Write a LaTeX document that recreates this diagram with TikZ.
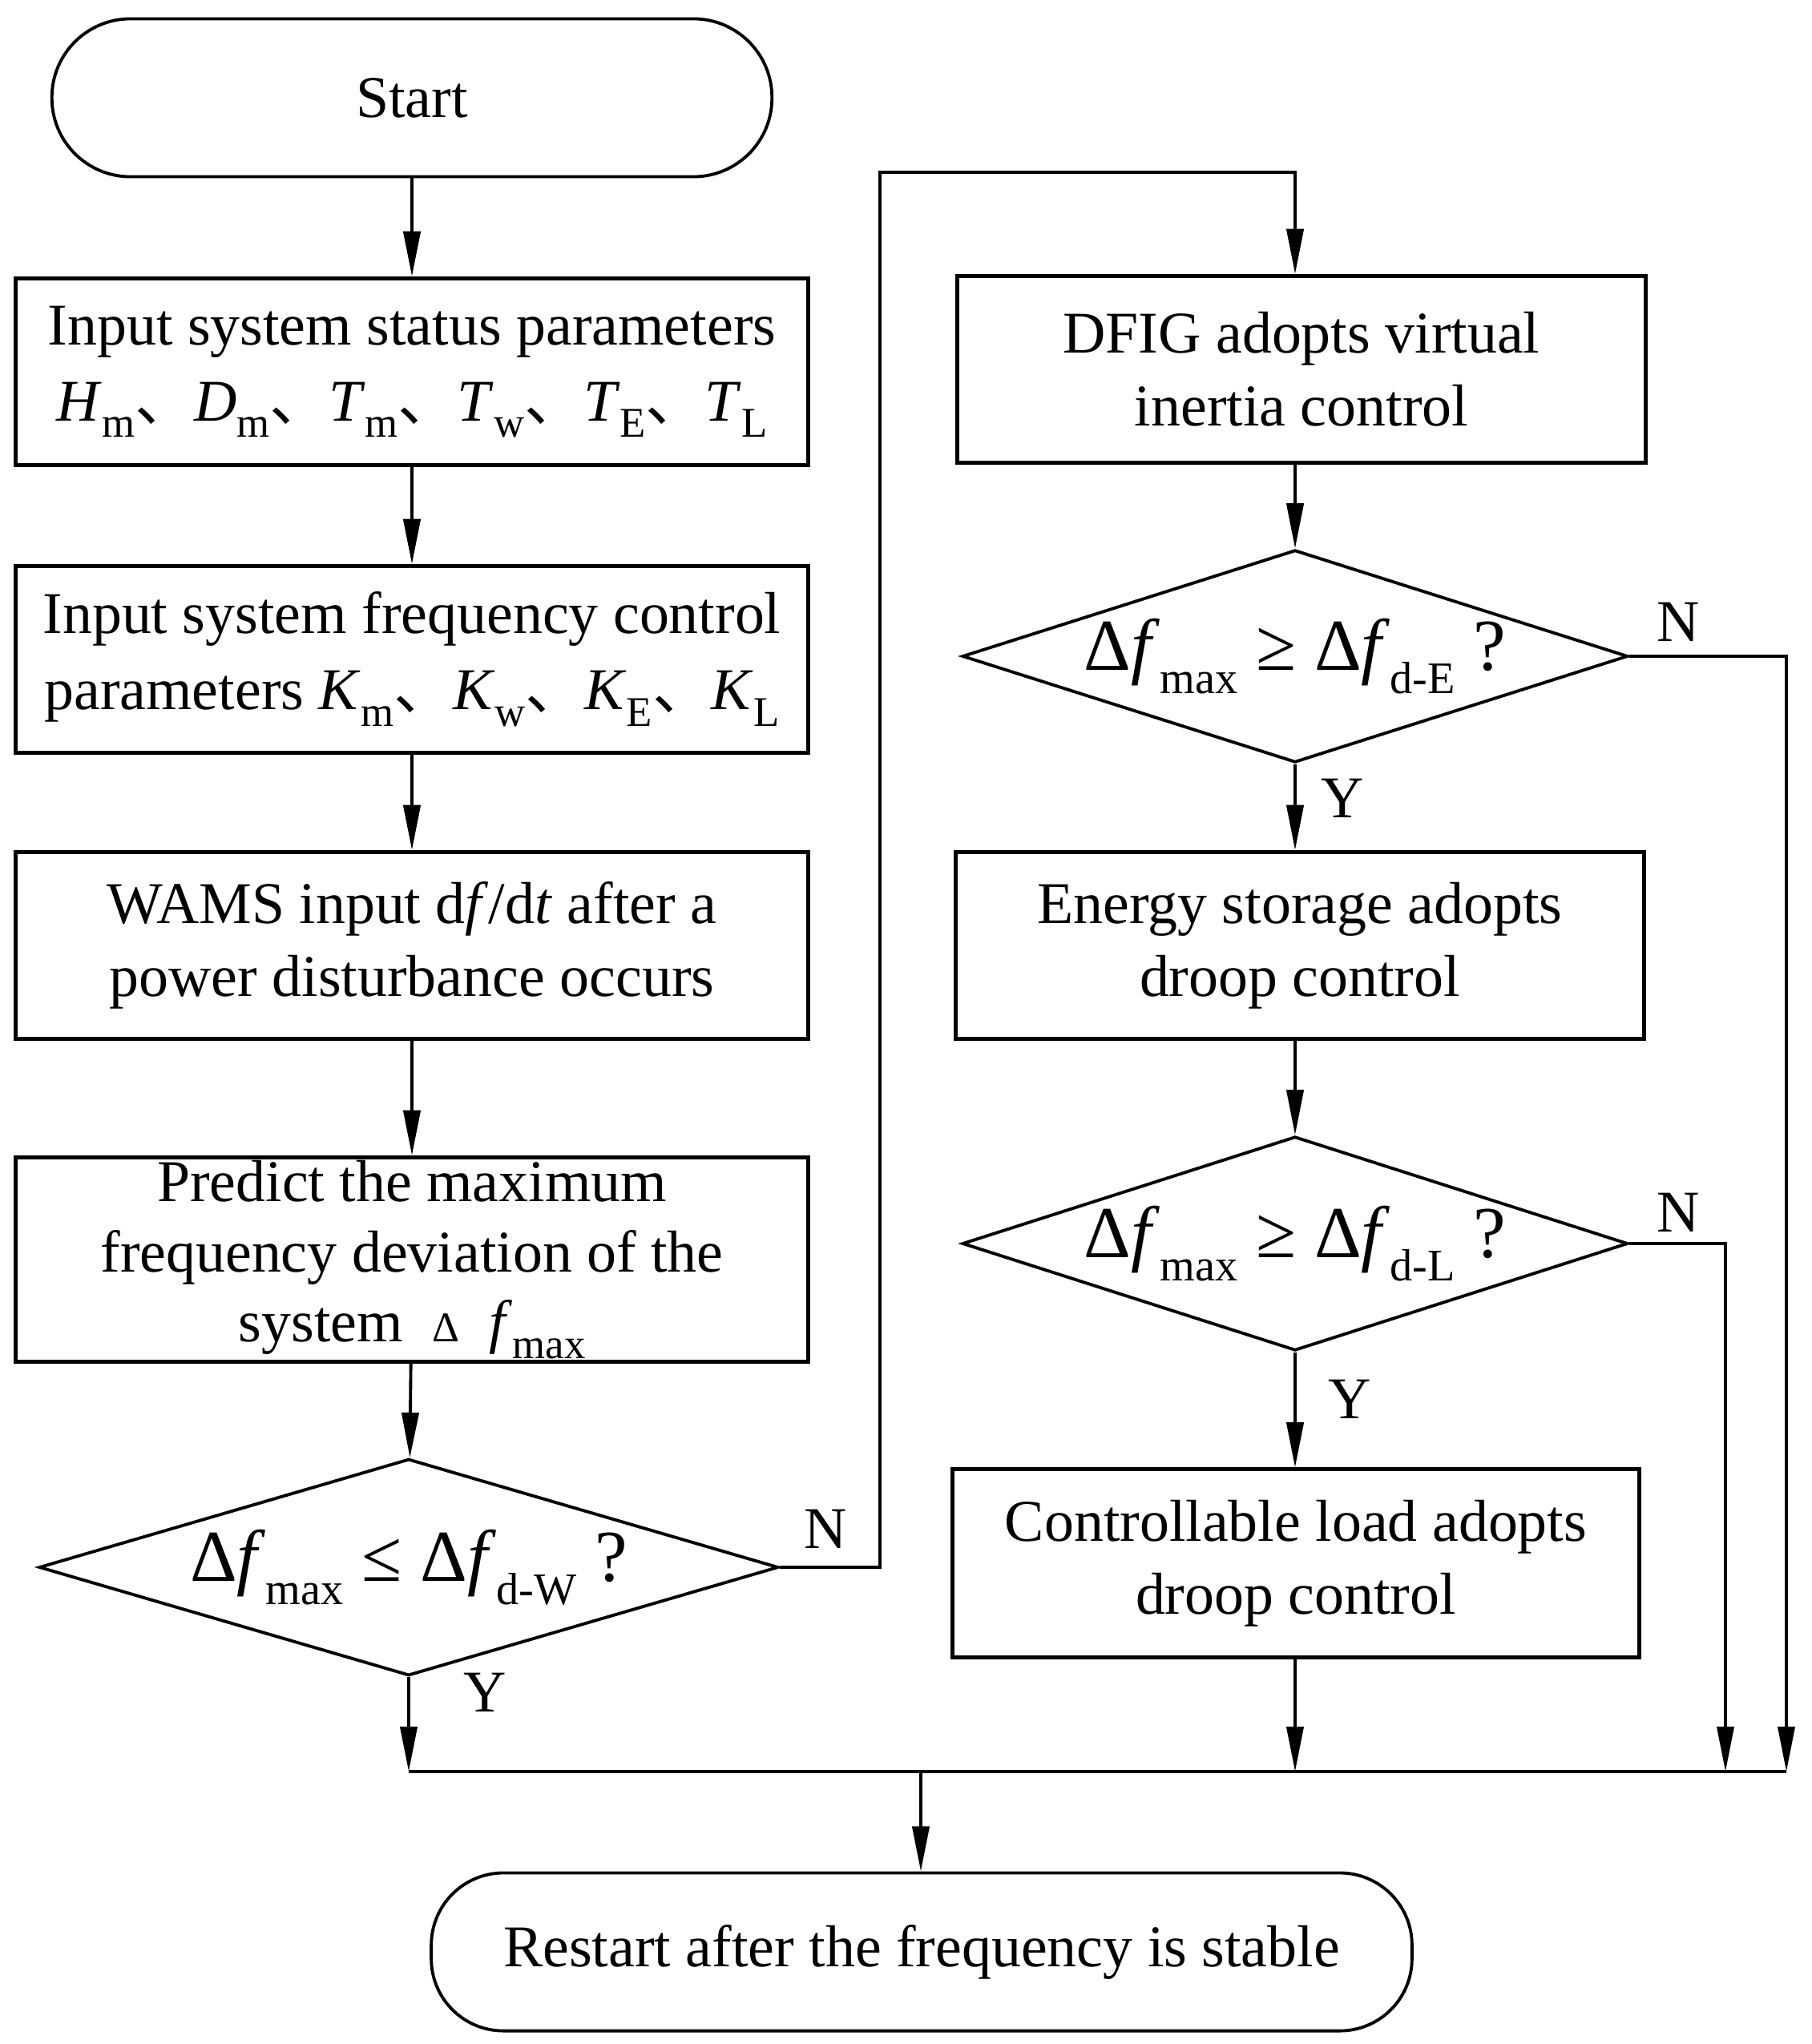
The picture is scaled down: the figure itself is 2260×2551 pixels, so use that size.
\documentclass[tikz,border=0pt]{standalone}
\usepackage{fontspec}
\setmainfont{Liberation Serif}
\newfontfamily\cjk{Noto Sans CJK SC}
\usetikzlibrary{arrows.meta,shapes.geometric}
\newcommand{\sbs}[1]{\raisebox{-0.28em}{\fontsize{15}{15}\selectfont #1}}
\newcommand{\sbb}[1]{\raisebox{-0.32em}{\fontsize{16}{16}\selectfont #1}}
\newcommand{\dn}{{\cjk 、}}
\begin{document}
\begin{tikzpicture}[x=0.01cm,y=-0.01cm,
  box/.style={draw, line width=1.4pt, align=center, inner sep=0pt,
    minimum width=9.89cm, minimum height=2.33cm, font=\fontsize{21}{26}\selectfont},
  rbox/.style={box, minimum width=8.58cm},
  dec/.style={diamond, draw, line width=1.1pt, inner sep=0pt, aspect=3.1,
    font=\fontsize{26}{30}\selectfont},
  term/.style={draw, line width=1.1pt, inner sep=0pt, minimum height=1.97cm,
    font=\fontsize{21}{26}\selectfont},
  arr/.style={-{Triangle[length=16pt,width=6pt]}, line width=1.1pt},
  lbl/.style={font=\fontsize{21}{26}\selectfont, inner sep=0pt}]
\useasboundingbox (0,0) rectangle (2260,2551);

% left column
\node[term, rounded corners=0.98cm, minimum width=8.98cm] (start) at (514,122) {Start};
\node[box, font=\fontsize{21}{27}\selectfont] (b1) at (514,464) {Input system status parameters\\
  \textit{H}\sbs{m}\dn\textit{D}\sbs{m}\dn\textit{T}\sbs{m}\dn\textit{T}\sbs{w}\dn\textit{T}\sbs{E}\dn\textit{T}\sbs{L}};
\node[box, font=\fontsize{21}{27}\selectfont] (b2) at (514,823) {Input system frequency control\\
  parameters \textit{K}\sbs{m}\dn\textit{K}\sbs{w}\dn\textit{K}\sbs{E}\dn\textit{K}\sbs{L}};
\node[box] (b3) at (514,1180) {WAMS input d\textit{f}/d\textit{t} after a\\power disturbance occurs};
\node[box, minimum height=2.55cm, font=\fontsize{21}{25}\selectfont] (b4) at (514,1572) {Predict the maximum\\frequency deviation of the\\
  system\ \ {\fontsize{15}{15}\selectfont Δ}\ \ \textit{f}\sbs{max}};
\node[dec, minimum width=9.22cm, minimum height=2.69cm] (dW) at (510,1956)
  {Δ\textit{f}\sbb{max}\ ≤ Δ\textit{f}\sbb{d-W}\ ?};

% right column
\node[rbox] (dfig) at (1624,461) {DFIG adopts virtual\\inertia control};
\node[dec, minimum width=8.30cm, minimum height=2.65cm] (dE) at (1616,819)
  {Δ\textit{f}\sbb{max}\ ≥ Δ\textit{f}\sbb{d-E}\ ?};
\node[rbox] (es) at (1622,1180) {Energy storage adopts\\droop control};
\node[dec, minimum width=8.30cm, minimum height=2.67cm] (dL) at (1616,1552)
  {Δ\textit{f}\sbb{max}\ ≥ Δ\textit{f}\sbb{d-L}\ ?};
\node[rbox, minimum width=8.56cm, minimum height=2.34cm] (cl) at (1617,1951) {Controllable load adopts\\droop control};

\node[term, rounded corners=0.9cm, minimum width=12.23cm] (restart) at (1150,2436) {Restart after the frequency is stable};

% coordinates
\coordinate (c1) at (1098,215);
\coordinate (busL) at (510,2211);
\coordinate (busR) at (2229,2211);
\coordinate (bL) at (2153,2211);
\coordinate (busM) at (1149,2211);

% connectors
\draw[arr] (start) -- (b1);
\draw[arr] (b1) -- (b2);
\draw[arr] (b2) -- (b3);
\draw[arr] (b3) -- (b4);
\draw[arr] (b4) -- (dW);
\draw[arr] (dW.south) -- (busL);
\draw[arr] (dW.east) -| (c1) -| (dE.north |- dfig.north);
\draw[arr] (dfig.south -| dE.north) -- (dE.north);
\draw[arr] (dE.south) -- (dE.south |- es.north);
\draw[arr] (es.south -| dL.north) -- (dL.north);
\draw[arr] (dL.south) -- (dL.south |- cl.north);
\draw[arr] (cl.south -| dL.south) -- (dL.south |- busL);
\draw[arr] (dE.east) -| (busR);
\draw[arr] (dL.east) -| (bL);
\draw[line width=1.4pt] (busL) -- (busR);
\draw[arr] (busM) -- (restart.north -| busM);

% labels
\node[lbl] (nW) at (1030,1908) {N};
\node[lbl] (yW) at (605,2112) {Y};
\node[lbl] (nE) at (2094,776) {N};
\node[lbl] (yE) at (1675,996) {Y};
\node[lbl] (nL) at (2094,1513) {N};
\node[lbl] (yL) at (1684,1746) {Y};
\end{tikzpicture}
\end{document}
